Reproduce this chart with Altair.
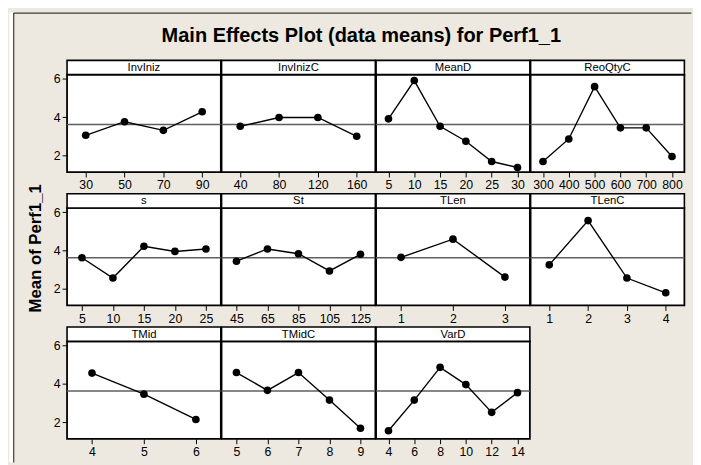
import altair as alt
import pandas as pd

# ---- data ----
factor_names = ["InvIniz", "InvInizC", "MeanD", "ReoQtyC", "s", "St",
                "TLen", "TLenC", "TMid", "TMidC", "VarD"]

invIniz_levels = [30, 50, 70, 90]
invIniz_means = [3.05, 3.76, 3.31, 4.28]
invInizC_levels = [40, 80, 120, 160]
invInizC_means = [3.52, 3.98, 3.98, 3.00]
meanD_levels = [5, 10, 15, 20, 25, 30]
meanD_means = [3.91, 5.91, 3.52, 2.74, 1.68, 1.37]
reoQtyC_levels = [300, 400, 500, 600, 700, 800]
reoQtyC_means = [1.68, 2.86, 5.59, 3.44, 3.44, 1.94]
s_levels = [5, 10, 15, 20, 25]
s_means = [3.62, 2.56, 4.22, 3.95, 4.08]
st_levels = [45, 65, 85, 105, 125]
st_means = [3.44, 4.08, 3.83, 2.93, 3.80]
tLen_levels = [1, 2, 3]
tLen_means = [3.64, 4.59, 2.61]
tLenC_levels = [1, 2, 3, 4]
tLenC_means = [3.25, 5.56, 2.56, 1.79]
tMid_levels = [4, 5, 6]
tMid_means = [4.56, 3.46, 2.14]
tMidC_levels = [5, 6, 7, 8, 9]
tMidC_means = [4.59, 3.66, 4.59, 3.15, 1.68]
varD_levels = [4, 6, 8, 10, 12, 14]
varD_means = [1.55, 3.15, 4.86, 3.96, 2.51, 3.54]

grand_mean = 3.62
y_ticks = [2, 4, 6]
title_text = "Main Effects Plot (data means) for Perf1_1"
y_title_text = "Mean of Perf1_1"

all_levels = [invIniz_levels, invInizC_levels, meanD_levels, reoQtyC_levels,
              s_levels, st_levels, tLen_levels, tLenC_levels,
              tMid_levels, tMidC_levels, varD_levels]
all_means = [invIniz_means, invInizC_means, meanD_means, reoQtyC_means,
             s_means, st_means, tLen_means, tLenC_means,
             tMid_means, tMidC_means, varD_means]

# ---- layout ----
W = 156.25
H = 99
STRIP = 14.5
YDOM = [1.13, 6.22]
FONT = "Liberation Sans"
BG = "#EDE9E0"

# offsets of page features relative to first panel's plot origin (page 66.7, 71)
LEFT_EDGE = -58.7
FRAME_X = -54.2
TOP_EDGE = -63
BOTTOM_EDGE = 394
RIGHT_EDGE = 634.3


def panel(name, lv, mv, col, first=False):
    step = lv[1] - lv[0]
    dom = [lv[0] - 0.48 * step, lv[-1] + 0.48 * step]
    df = pd.DataFrame({"x": lv, "y": mv})
    xenc = alt.X("x:Q",
                 scale=alt.Scale(domain=dom, nice=False, zero=False),
                 axis=alt.Axis(values=lv, title=None, grid=False, domain=False,
                               tickSize=5, tickColor="black", tickWidth=1,
                               labelFontSize=12.5, labelColor="black",
                               labelPadding=2, labelFlush=False, format="d",
                               labelFont=FONT))
    if col == 0:
        yaxis = alt.Axis(values=y_ticks, title=None, grid=False, domain=False,
                         tickSize=5, tickColor="black", tickWidth=1,
                         labelFontSize=12.5, labelColor="black",
                         labelPadding=2, format="d", labelFont=FONT)
    else:
        yaxis = None
    yenc = alt.Y("y:Q", scale=alt.Scale(domain=YDOM, nice=False, zero=False),
                 axis=yaxis)

    one = pd.DataFrame({"y": [grand_mean]})
    layers = []
    if first:
        layers.append(
            alt.Chart(one).mark_rect(color="white").encode(
                x=alt.value(LEFT_EDGE), x2=alt.value(FRAME_X - 0.6),
                y=alt.value(TOP_EDGE), y2=alt.value(BOTTOM_EDGE)))
        layers.append(
            alt.Chart(one).mark_rule(color="#3c3c3c", strokeWidth=1.2).encode(
                x=alt.value(FRAME_X), y=alt.value(TOP_EDGE + 0.5),
                y2=alt.value(BOTTOM_EDGE)))
        layers.append(
            alt.Chart(one).mark_rule(color="#3c3c3c", strokeWidth=1.2).encode(
                x=alt.value(FRAME_X), x2=alt.value(RIGHT_EDGE),
                y=alt.value(TOP_EDGE + 0.6)))
        layers.append(
            alt.Chart(one).mark_text(text=title_text, font=FONT, fontSize=20.3,
                                     fontWeight="bold", color="black",
                                     align="center", baseline="alphabetic").encode(
                x=alt.value(299), y=alt.value(-33.5)))
        layers.append(
            alt.Chart(one).mark_text(text=y_title_text, font=FONT, fontSize=17,
                                     fontWeight="bold", color="black", angle=270,
                                     align="center", baseline="middle").encode(
                x=alt.value(-31.2), y=alt.value(176.5)))

    layers.append(
        alt.Chart(one).mark_rule(color="#5f5f5f", strokeWidth=1.5).encode(y=yenc))
    layers.append(
        alt.Chart(df).mark_line(color="black", strokeWidth=1.4).encode(x=xenc, y=yenc))
    layers.append(
        alt.Chart(df).mark_point(filled=True, color="black", size=60, opacity=1,
                                 shape="circle").encode(x=xenc, y=yenc))
    layers.append(
        alt.Chart(one).mark_rect(fill="white", stroke="black", strokeWidth=1.6).encode(
            x=alt.value(0), x2=alt.value(W), y=alt.value(-STRIP), y2=alt.value(0)))
    layers.append(
        alt.Chart(one).mark_text(text=name, font=FONT, fontSize=11.5, color="black",
                                 align="center", baseline="middle").encode(
            x=alt.value(W / 2), y=alt.value(-STRIP / 2 + 0.5)))
    return alt.layer(*layers).properties(width=W, height=H)


panels = []
for i, (nm, lv, mv) in enumerate(zip(factor_names, all_levels, all_means)):
    panels.append(panel(nm, lv, mv, i % 4, first=(i == 0)))

chart = alt.concat(*panels, columns=4, spacing={"row": 36.5, "column": 0},
                   bounds="flush").properties(
    padding=0, background=BG
).configure_view(
    stroke="black", strokeWidth=1.8, fill="white"
)

chart.save("out.html", embed_options={"renderer": "svg", "actions": False})
